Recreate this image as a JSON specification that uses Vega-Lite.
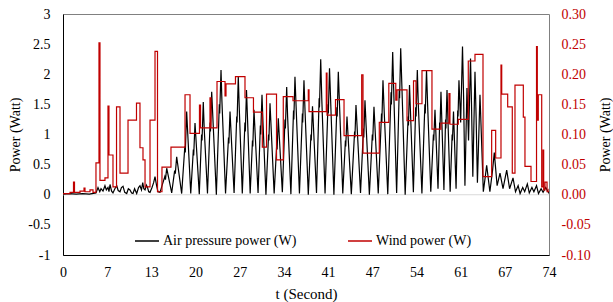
{
"$schema":"https://vega.github.io/schema/vega-lite/v6.json",
"width":486,"height":241,
"autosize":{"type":"none"},
"padding":{"left":63,"top":14,"right":64,"bottom":47},
"background":"white",
"config":{
 "view":{"stroke":"#808080","strokeWidth":1},
 "font":"Liberation Serif",
 "axis":{"grid":false,"ticks":false,"labelFont":"Liberation Serif","titleFont":"Liberation Serif","labelFontSize":14,"titleFontSize":14,"titleFontWeight":"normal","labelColor":"#000000","titleColor":"#000000"},
 "legend":{"labelFont":"Liberation Serif","labelFontSize":14,"labelColor":"#000000"}
},
"datasets":{
"air":[
{"t":0,"a":0.01},{"t":1,"a":0.02},{"t":2,"a":0.01},{"t":3,"a":0.02},{"t":4,"a":0.01},{"t":5.02,"a":0.03},{"t":5.33,"a":0.12},{"t":5.6,"a":0.05},{"t":5.79,"a":0.1},{"t":6.09,"a":0.06},{"t":6.39,"a":0.15},{"t":6.6,"a":0.08},{"t":6.85,"a":0.12},{"t":7.0,"a":0.05},{"t":7.16,"a":0.17},{"t":7.4,"a":0.06},{"t":7.61,"a":0.03},{"t":7.9,"a":0.1},{"t":8.18,"a":0.15},{"t":8.4,"a":0.07},{"t":8.68,"a":0.05},{"t":8.9,"a":0.12},{"t":9.14,"a":0.14},{"t":9.4,"a":0.04},{"t":9.7,"a":0.02},{"t":9.95,"a":0.1},{"t":10.2,"a":0.08},{"t":10.45,"a":0.03},{"t":10.66,"a":0.02},{"t":10.9,"a":0.1},{"t":11.22,"a":0.02},{"t":11.5,"a":0.12},{"t":11.72,"a":0.15},{"t":11.95,"a":0.08},{"t":12.14,"a":0.2},{"t":12.3,"a":0.1},{"t":12.49,"a":0.08},{"t":12.7,"a":0.16},{"t":12.84,"a":0.13},{"t":13.05,"a":0.05},{"t":13.25,"a":0.04},{"t":13.55,"a":0.12},{"t":13.8,"a":0.2},{"t":14.01,"a":0.3},{"t":14.25,"a":0.15},{"t":14.46,"a":0.05},{"t":14.77,"a":0.04},
{"t":15.5,"a":0.3},{"t":15.6,"a":0.25},{"t":15.79,"a":0.44},{"t":16.55,"a":0.03},
{"t":17.0,"a":0.4},{"t":17.1,"a":0.35},{"t":17.31,"a":0.63},{"t":18.07,"a":0.02},
{"t":18.55,"a":0.8},{"t":18.62,"a":0.7},{"t":18.83,"a":1.38},{"t":19.0,"a":1.0},{"t":19.45,"a":0.02},
{"t":19.85,"a":0.75},{"t":19.9,"a":0.65},{"t":20.1,"a":1.19},{"t":20.75,"a":0.01},
{"t":21.1,"a":1.0},{"t":21.17,"a":0.9},{"t":21.36,"a":1.54},{"t":21.5,"a":1.1},{"t":22.0,"a":0.02},
{"t":22.4,"a":1.2},{"t":22.45,"a":1.05},{"t":22.64,"a":1.71},{"t":23.35,"a":0.0},
{"t":23.8,"a":1.5},{"t":23.86,"a":1.35},{"t":24.06,"a":2.07},{"t":24.2,"a":1.55},{"t":24.75,"a":0.02},
{"t":25.2,"a":0.95},{"t":25.26,"a":0.85},{"t":25.43,"a":1.38},{"t":26.05,"a":0.03},
{"t":26.45,"a":1.3},{"t":26.5,"a":1.2},{"t":26.69,"a":1.96},{"t":26.85,"a":1.4},{"t":27.3,"a":0.02},
{"t":27.7,"a":1.2},{"t":27.76,"a":1.05},{"t":27.94,"a":1.74},{"t":28.5,"a":0.02},
{"t":28.85,"a":0.9},{"t":28.9,"a":0.8},{"t":29.08,"a":1.41},{"t":29.7,"a":0.03},
{"t":30.05,"a":1.15},{"t":30.1,"a":1.0},{"t":30.3,"a":1.66},{"t":30.45,"a":1.2},{"t":30.9,"a":0.0},
{"t":31.3,"a":1.0},{"t":31.35,"a":0.9},{"t":31.52,"a":1.52},{"t":32.15,"a":0.02},
{"t":32.55,"a":0.85},{"t":32.6,"a":0.75},{"t":32.78,"a":1.27},{"t":33.4,"a":0.04},
{"t":33.8,"a":1.25},{"t":33.86,"a":1.1},{"t":34.06,"a":1.79},{"t":34.2,"a":1.3},{"t":34.7,"a":0.01},
{"t":35.1,"a":1.4},{"t":35.15,"a":1.25},{"t":35.32,"a":1.96},{"t":36.0,"a":0.02},
{"t":36.45,"a":1.35},{"t":36.5,"a":1.2},{"t":36.69,"a":1.9},{"t":36.85,"a":1.4},{"t":37.35,"a":0.0},
{"t":37.75,"a":1.0},{"t":37.8,"a":0.9},{"t":37.99,"a":1.47},{"t":38.6,"a":0.03},
{"t":39.0,"a":1.6},{"t":39.05,"a":1.45},{"t":39.24,"a":2.25},{"t":39.4,"a":1.6},{"t":39.9,"a":0.02},
{"t":40.35,"a":1.5},{"t":40.4,"a":1.35},{"t":40.58,"a":2.1},{"t":41.25,"a":0.0},
{"t":41.7,"a":1.45},{"t":41.75,"a":1.3},{"t":41.92,"a":2.04},{"t":42.1,"a":1.5},{"t":42.6,"a":0.02},
{"t":43.0,"a":0.9},{"t":43.05,"a":0.8},{"t":43.24,"a":1.3},{"t":43.9,"a":0.01},
{"t":44.4,"a":1.05},{"t":44.45,"a":0.95},{"t":44.61,"a":1.49},{"t":45.3,"a":0.03},
{"t":45.75,"a":1.1},{"t":45.8,"a":0.95},{"t":45.98,"a":1.57},{"t":46.15,"a":1.15},{"t":46.65,"a":0.0},
{"t":47.1,"a":1.0},{"t":47.16,"a":0.9},{"t":47.35,"a":1.46},{"t":48.0,"a":0.02},
{"t":48.5,"a":1.35},{"t":48.55,"a":1.2},{"t":48.72,"a":1.9},{"t":48.9,"a":1.4},{"t":49.45,"a":0.01},
{"t":49.95,"a":1.7},{"t":50.0,"a":1.5},{"t":50.2,"a":2.37},{"t":50.35,"a":1.75},{"t":50.8,"a":0.03},
{"t":51.2,"a":1.75},{"t":51.25,"a":1.6},{"t":51.42,"a":2.43},{"t":51.6,"a":1.8},{"t":52.1,"a":0.0},
{"t":52.55,"a":1.3},{"t":52.6,"a":1.15},{"t":52.76,"a":1.82},{"t":53.35,"a":0.04},
{"t":53.7,"a":1.45},{"t":53.76,"a":1.3},{"t":53.95,"a":2.07},{"t":54.1,"a":1.5},{"t":54.65,"a":0.02},
{"t":55.1,"a":1.5},{"t":55.16,"a":1.35},{"t":55.35,"a":2.07},{"t":55.5,"a":1.55},{"t":56.0,"a":0.05},
{"t":56.4,"a":1.0},{"t":56.45,"a":0.9},{"t":56.64,"a":1.41},{"t":57.1,"a":0.1},
{"t":57.35,"a":1.2},{"t":57.4,"a":1.1},{"t":57.55,"a":1.71},{"t":58.0,"a":0.08},
{"t":58.25,"a":1.25},{"t":58.3,"a":1.1},{"t":58.47,"a":1.74},{"t":58.95,"a":0.05},
{"t":59.25,"a":1.0},{"t":59.3,"a":0.9},{"t":59.46,"a":1.38},{"t":59.85,"a":0.1},
{"t":60.1,"a":1.4},{"t":60.15,"a":1.3},{"t":60.29,"a":1.9},{"t":60.55,"a":1.2},{"t":60.83,"a":2.46},{"t":61.0,"a":1.6},{"t":61.2,"a":0.15},
{"t":61.51,"a":1.77},{"t":61.75,"a":0.9},{"t":62.05,"a":2.26},{"t":62.2,"a":1.5},{"t":62.4,"a":0.3},
{"t":62.73,"a":2.04},{"t":62.9,"a":1.3},{"t":63.1,"a":0.2},{"t":63.49,"a":1.66},{"t":64.0,"a":0.05},
{"t":64.3,"a":0.3},{"t":64.51,"a":0.49},{"t":65.0,"a":0.05},{"t":65.4,"a":0.4},{"t":65.67,"a":0.7},{"t":66.1,"a":0.15},{"t":66.54,"a":0.36},{"t":67.0,"a":0.1},{"t":67.56,"a":0.41},{"t":68.0,"a":0.1},{"t":68.52,"a":0.28},{"t":68.9,"a":0.05},{"t":69.3,"a":0.15},{"t":69.6,"a":0.02},{"t":70.0,"a":0.12},{"t":70.3,"a":0.05},{"t":70.7,"a":0.18},{"t":71.0,"a":0.03},{"t":71.4,"a":0.12},{"t":71.7,"a":0.05},{"t":72.1,"a":0.15},{"t":72.4,"a":0.02},{"t":72.8,"a":0.1},{"t":73.1,"a":0.04},{"t":73.5,"a":0.12},{"t":74,"a":0.02}
],
"wind":[
{"t":0,"w":0.002},{"t":1.07,"w":0.004},{"t":1.6,"w":0.021},{"t":1.75,"w":0.004},{"t":2.59,"w":0.006},{"t":3.2,"w":0.011},{"t":3.35,"w":0.005},{"t":4.11,"w":0.008},{"t":4.57,"w":0.004},{"t":5.02,"w":0.053},{"t":5.48,"w":0.252},{"t":5.63,"w":0.024},{"t":6.39,"w":0.028},{"t":6.85,"w":0.147},{"t":7.0,"w":0.066},{"t":7.61,"w":0.013},{"t":8.15,"w":0.146},{"t":8.68,"w":0.036},{"t":9.9,"w":0.124},{"t":11.19,"w":0.152},{"t":11.72,"w":0.078},{"t":12.18,"w":0.058},{"t":12.49,"w":0.013},{"t":13.25,"w":0.124},{"t":14.01,"w":0.238},{"t":14.39,"w":0.005},{"t":15.07,"w":0.046},{"t":16.44,"w":0.079},{"t":18.58,"w":0.166},{"t":19.34,"w":0.102},{"t":20.78,"w":0.149},{"t":20.94,"w":0.111},{"t":22.38,"w":0.161},{"t":22.53,"w":0.111},{"t":23.45,"w":0.188},{"t":24.67,"w":0.164},{"t":24.82,"w":0.184},{"t":26.26,"w":0.196},{"t":27.71,"w":0.161},{"t":29.0,"w":0.137},{"t":30.35,"w":0.079},{"t":30.99,"w":0.167},{"t":32.51,"w":0.058},{"t":33.54,"w":0.163},{"t":35.02,"w":0.156},{"t":37.35,"w":0.174},{"t":37.46,"w":0.138},{"t":40.09,"w":0.202},{"t":40.2,"w":0.132},{"t":41.49,"w":0.158},{"t":42.79,"w":0.098},{"t":45.48,"w":0.199},{"t":45.68,"w":0.069},{"t":48.16,"w":0.12},{"t":49.61,"w":0.185},{"t":50.67,"w":0.157},{"t":50.86,"w":0.174},{"t":52.38,"w":0.123},{"t":53.37,"w":0.189},{"t":53.75,"w":0.151},{"t":54.66,"w":0.206},{"t":56.18,"w":0.109},{"t":57.55,"w":0.119},{"t":58.77,"w":0.168},{"t":58.92,"w":0.117},{"t":60.19,"w":0.125},{"t":61.71,"w":0.222},{"t":62.73,"w":0.233},{"t":63.95,"w":0.03},{"t":65.27,"w":0.107},{"t":65.88,"w":0.061},{"t":66.69,"w":0.215},{"t":66.8,"w":0.167},{"t":67.71,"w":0.146},{"t":68.41,"w":0.036},{"t":68.82,"w":0.182},{"t":70.09,"w":0.129},{"t":70.34,"w":0.047},{"t":71.26,"w":0.022},{"t":72.1,"w":0.246},{"t":72.22,"w":0.124},{"t":72.37,"w":0.166},{"t":72.89,"w":0.013},{"t":73.09,"w":0.074},{"t":73.19,"w":0.008},{"t":73.39,"w":0.021},{"t":73.7,"w":0.005},{"t":74,"w":0.01}
]
},
"layer":[
{"data":{"values":[{"z":0}]},
 "mark":{"type":"rule","stroke":"#D9D9D9","strokeWidth":1},
 "encoding":{"y":{"field":"z","type":"quantitative","scale":{"domain":[-1,3]},"axis":null}}},
{"data":{"name":"air"},
 "mark":{"type":"line","strokeWidth":1.2,"clip":true},
 "encoding":{
  "x":{"field":"t","type":"quantitative","scale":{"domain":[0,74],"nice":false,"zero":false},
   "axis":{"title":"t (Second)","titleFontSize":15,"values":[0,6.7273,13.4545,20.1818,26.9091,33.6364,40.3636,47.0909,53.8182,60.5455,67.2727,74],
    "labelExpr":"['0','7','13','20','27','34','41','47','54','61','67','74'][round(datum.value*11/74)]",
    "labelPadding":10,"domainColor":"#000000","labelFlush":false,"titleX":243,"titleY":38,"titleBaseline":"middle"}},
  "y":{"field":"a","type":"quantitative","scale":{"domain":[-1,3],"nice":false},
   "axis":{"title":"Power (Watt)","values":[-1,-0.5,0,0.5,1,1.5,2,2.5,3],"labelExpr":"''+datum.value","labelPadding":13,"domainColor":"#000000",
    "titleAngle":270,"titleX":-48,"titleY":120.5,"titleAlign":"center","titleBaseline":"middle"}},
  "color":{"datum":"Air pressure power (W)","type":"nominal",
   "scale":{"domain":["Air pressure power (W)","Wind power (W)"],"range":["#000000","#C00000"]},
   "legend":{"title":null,"orient":"none","legendX":71,"legendY":214,"direction":"horizontal","columnPadding":48,"symbolType":"stroke","symbolSize":576,"symbolStrokeWidth":1.5,"labelOffset":3,"padding":0}}}},
{"data":{"name":"wind"},
 "mark":{"type":"line","interpolate":"step-after","strokeWidth":1.2,"clip":true},
 "encoding":{
  "x":{"field":"t","type":"quantitative","scale":{"domain":[0,74],"nice":false,"zero":false},
   "axis":{"title":"t (Second)","titleFontSize":15,"values":[0,6.7273,13.4545,20.1818,26.9091,33.6364,40.3636,47.0909,53.8182,60.5455,67.2727,74],
    "labelExpr":"['0','7','13','20','27','34','41','47','54','61','67','74'][round(datum.value*11/74)]",
    "labelPadding":10,"domainColor":"#000000","labelFlush":false,"titleX":243,"titleY":38,"titleBaseline":"middle"}},
  "y":{"field":"w","type":"quantitative","scale":{"domain":[-0.1,0.3],"nice":false},
   "axis":{"orient":"right","title":"Power (Watt)","values":[-0.1,-0.05,0,0.05,0.1,0.15,0.2,0.25,0.3],
    "labelExpr":"replace(format(datum.value,'.2f'),'\u2212','-')","labelColor":"#C00000","labelPadding":12,"domain":false,
    "titleAngle":270,"titleX":56,"titleY":120.5,"titleAlign":"center","titleBaseline":"middle"}},
  "color":{"datum":"Wind power (W)","type":"nominal"}}}
],
"resolve":{"scale":{"y":"independent"},"axis":{"y":"independent"}}
}
